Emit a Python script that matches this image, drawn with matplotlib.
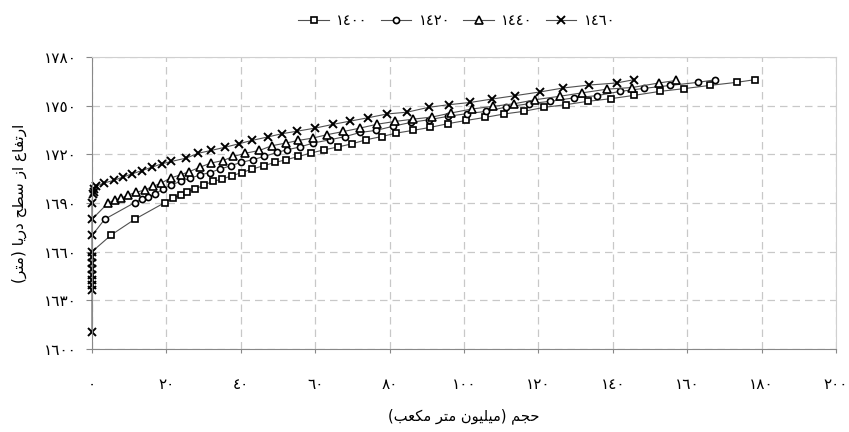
import matplotlib
matplotlib.use("Agg")
import matplotlib.pyplot as plt
import numpy as np

# ---------------- data ----------------
x_1400 = [0, 5.2, 11.5, 19.6, 21.7, 23.8, 25.5, 27.7, 30.1, 32.5, 34.9, 37.6, 40.3, 43.0,
          46.1, 49.2, 52.2, 55.5, 58.8, 62.4, 66.0, 69.9, 73.7, 77.9, 81.8, 86.3, 90.9,
          95.6, 100.6, 105.7, 110.8, 116.0, 121.6, 127.3, 133.3, 139.4, 145.8, 152.6,
          159.1, 166.1, 173.3, 178.1]
y_1400 = [1660, 1670.4, 1680, 1690.3, 1693, 1695, 1697, 1698.5, 1701.2, 1703.3, 1704.7,
          1706.8, 1708.8, 1710.9, 1713, 1715, 1716.7, 1718.7, 1720.8, 1722.8, 1724.5,
          1726.5, 1729, 1731, 1733.1, 1734.8, 1736.6, 1738.9, 1740.9, 1742.8, 1744.9,
          1746.5, 1749, 1750.6, 1752.7, 1754.3, 1756.4, 1758.8, 1760.5, 1762.5, 1764.4, 1766]

x_1420 = [0, 3.4, 11.5, 13.3, 15.1, 17.0, 19.0, 21.3, 23.8, 26.4, 28.9, 31.7, 34.4, 37.3,
          40.0, 43.2, 46.3, 49.7, 52.4, 55.8, 59.5, 64.0, 68.1, 72.1, 76.4, 80.9, 85.7,
          90.7, 95.6, 100.8, 106.0, 111.4, 117.4, 123.2, 129.5, 135.8, 141.9, 148.5,
          155.5, 162.9, 167.6]
y_1420 = [1670, 1680, 1690.3, 1692.4, 1693.6, 1695.7, 1698.5, 1701.2, 1703.3, 1705.3,
          1707.2, 1708.8, 1710.9, 1713, 1715, 1716.7, 1718.7, 1721.2, 1722.8, 1724.5,
          1727, 1729, 1731, 1733.5, 1734.8, 1737.3, 1739.7, 1741.4, 1743.4, 1745.1,
          1746.5, 1749.2, 1751.2, 1752.7, 1754.8, 1756.2, 1758.8, 1760.7, 1762.5, 1764.4, 1766]

x_1440 = [0, 4.3, 6.1, 7.9, 9.7, 11.8, 14.2, 16.3, 18.6, 21.1, 23.8, 26.2, 28.9, 31.9,
          35.2, 38.0, 41.2, 45.0, 48.3, 52.2, 55.5, 59.5, 63.1, 67.6, 72.1, 76.7, 81.5,
          86.3, 91.4, 96.5, 102.2, 107.8, 113.5, 119.2, 125.7, 131.7, 138.5, 145.2,
          152.4, 157.1]
y_1440 = [1680, 1690, 1692, 1693, 1695, 1696.5, 1698.1, 1700.2, 1702.3, 1705.4, 1707.4,
          1709.4, 1712, 1714.6, 1716.2, 1718.7, 1720.7, 1722.4, 1725.3, 1727, 1728.6,
          1730.1, 1732.1, 1734.1, 1736.2, 1738.6, 1740.3, 1741.7, 1743, 1745.5, 1748,
          1749.6, 1751.2, 1753.7, 1755.8, 1757.9, 1760.2, 1761.2, 1764, 1765.6]

x_1460 = [0, 0, 0, 0, 0, 0, 0, 0, 0, 0, 0, 0, 0.2, 0.4, 0.6, 1.2, 3.1, 5.8, 8.3, 10.8,
          13.3, 16.1, 18.8, 21.3, 25.3, 28.6, 32.0, 35.8, 39.4, 43.0, 47.2, 51.0, 55.2,
          60.0, 64.8, 69.4, 74.3, 79.3, 84.7, 90.5, 95.9, 101.7, 107.5, 113.8, 120.5,
          126.6, 133.5, 141.0, 145.6]
y_1460 = [1610.5, 1636.4, 1639.5, 1642.6, 1645.7, 1649.4, 1653, 1656.8, 1660, 1670, 1680,
          1690, 1695.5, 1697, 1698.5, 1700.5, 1702.3, 1703.9, 1706, 1708, 1709.9, 1712.1,
          1714.2, 1715.6, 1717.7, 1720.7, 1722.4, 1724.4, 1726.5, 1728.6, 1730.7, 1732.7,
          1734.3, 1736.2, 1738.5, 1740.5, 1742.6, 1744.9, 1746, 1749, 1750.6, 1752,
          1754.1, 1756.2, 1758.5, 1760.9, 1762.7, 1764, 1766]

series_labels = ["١٤٠٠", "١٤٢٠", "١٤٤٠", "١٤٦٠"]
x_ticks = [0, 20, 40, 60, 80, 100, 120, 140, 160, 180, 200]
x_tick_labels = ["٠", "٢٠", "٤٠", "٦٠", "٨٠", "١٠٠", "١٢٠", "١٤٠", "١٦٠", "١٨٠", "٢٠٠"]
y_ticks = [1600, 1630, 1660, 1690, 1720, 1750, 1780]
y_tick_labels = ["١٦٠٠", "١٦٣٠", "١٦٦٠", "١٦٩٠", "١٧٢٠", "١٧٥٠", "١٧٨٠"]
x_title = "حجم (میلیون متر مکعب)"
y_title = "ارتفاع از سطح دریا (متر)"

# ------------- simple Arabic/Persian shaping (visual order) -------------
FORMS = {
    'ا': (0xFE8D, 0xFE8E), 'ب': (0xFE8F, 0xFE90, 0xFE91, 0xFE92),
    'ت': (0xFE95, 0xFE96, 0xFE97, 0xFE98), 'ج': (0xFE9D, 0xFE9E, 0xFE9F, 0xFEA0),
    'ح': (0xFEA1, 0xFEA2, 0xFEA3, 0xFEA4), 'د': (0xFEA9, 0xFEAA),
    'ر': (0xFEAD, 0xFEAE), 'ز': (0xFEAF, 0xFEB0),
    'س': (0xFEB1, 0xFEB2, 0xFEB3, 0xFEB4), 'ط': (0xFEC1, 0xFEC2, 0xFEC3, 0xFEC4),
    'ع': (0xFEC9, 0xFECA, 0xFECB, 0xFECC), 'ف': (0xFED1, 0xFED2, 0xFED3, 0xFED4),
    'ل': (0xFEDD, 0xFEDE, 0xFEDF, 0xFEE0), 'م': (0xFEE1, 0xFEE2, 0xFEE3, 0xFEE4),
    'ن': (0xFEE5, 0xFEE6, 0xFEE7, 0xFEE8), 'و': (0xFEED, 0xFEEE),
    'ی': (0xFBFC, 0xFBFD, 0xFBFE, 0xFBFF), 'ک': (0xFB8E, 0xFB8F, 0xFB90, 0xFB91),
}


def shape(s):
    def dual(c):
        return c in FORMS and len(FORMS[c]) == 4
    out = []
    for i, c in enumerate(s):
        if c not in FORMS:
            out.append(c)
            continue
        prev = s[i - 1] if i > 0 else ''
        nxt = s[i + 1] if i + 1 < len(s) else ''
        jp = dual(prev)
        jn = dual(c) and nxt in FORMS
        f = FORMS[c]
        if jp and jn:
            g = f[3]
        elif jp:
            g = f[1]
        elif jn:
            g = f[2]
        else:
            g = f[0]
        out.append(chr(g))
    vis = ''.join(reversed(out))
    return vis.translate(str.maketrans('()', ')('))


plt.rcParams['font.family'] = ['DejaVu Sans']

fig = plt.figure(figsize=(8.49, 4.32), dpi=100)
ax = fig.add_axes([0.1084, 0.1921, 0.8763, 0.6759])

line_kw = dict(color='#505050', lw=0.8, mfc='white', mec='black', mew=1.2, clip_on=False)
ax.plot(x_1400, y_1400, marker='s', ms=4.6, markevery=slice(1, None), label=series_labels[0], **line_kw)
ax.plot(x_1420, y_1420, marker='o', ms=4.4, markevery=slice(1, None), label=series_labels[1], **line_kw)
ax.plot(x_1440, y_1440, marker='^', ms=5.2, markevery=slice(1, None), label=series_labels[2], **line_kw)
ax.plot(x_1460, y_1460, marker='x', ms=5.8, label=series_labels[3],
        color='#505050', lw=0.8, mec='black', mew=1.4, clip_on=False)

ax.set_xlim(0, 200)
ax.set_ylim(1600, 1780)
ax.set_xticks(x_ticks)
ax.set_xticklabels(x_tick_labels, fontsize=11)
ax.set_yticks(y_ticks)
ax.set_yticklabels(y_tick_labels, fontsize=11)

ax.grid(True, color='#c8c8c8', linestyle=(0, (6, 4)), lw=0.9)
ax.set_axisbelow(True)
for side in ['top', 'right']:
    ax.spines[side].set_color('#d0d0d0')
for side in ['left', 'bottom']:
    ax.spines[side].set_color('#888888')
ax.tick_params(axis='y', direction='out', length=4, color='#888888', pad=7)
ax.tick_params(axis='x', direction='out', length=3, color='#888888', pad=17)

ax.set_xlabel(shape(x_title), fontsize=10.5, labelpad=12)
ax.set_ylabel(shape(y_title), fontsize=11, labelpad=12)

fig.legend(loc='upper center', bbox_to_anchor=(0.538, 1.0), ncol=4, frameon=False,
           fontsize=10.5, handlelength=2.1, columnspacing=0.9, handletextpad=0.5)

fig.savefig('out.png', dpi=100)
